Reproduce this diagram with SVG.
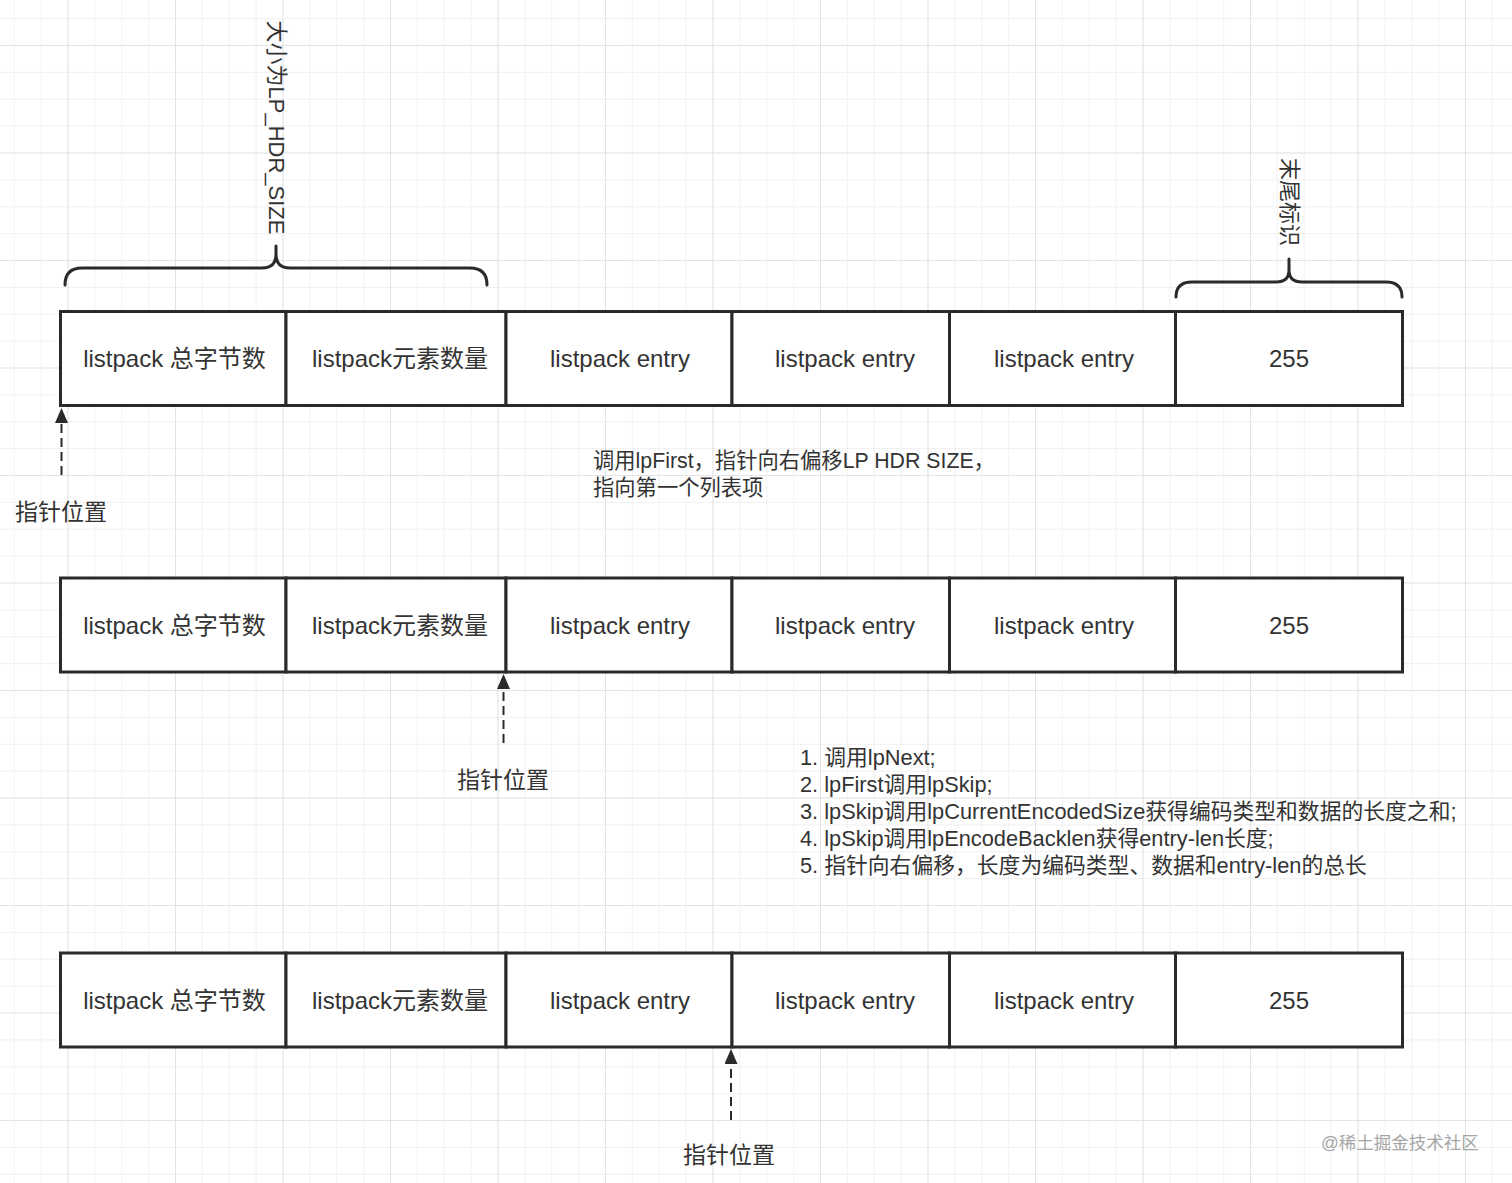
<svg xmlns="http://www.w3.org/2000/svg" width="1512" height="1183" viewBox="0 0 1512 1183">
  <defs>
    <pattern id="gridMinor" patternUnits="userSpaceOnUse" x="13.75" y="18.125" width="26.875" height="26.875">
      <path d="M0,0 H26.875 M0,0 V26.875" fill="none" stroke="#ebebeb" stroke-width="1.3"/>
    </pattern>
    <pattern id="gridMajor" patternUnits="userSpaceOnUse" x="67.5" y="45" width="107.5" height="107.5">
      <path d="M0,0 H107.5 M0,0 V107.5" fill="none" stroke="#e1e1e1" stroke-width="1.7"/>
    </pattern>
    <marker id="arrowHead" markerUnits="userSpaceOnUse" markerWidth="16" markerHeight="13" refX="0" refY="6.5" orient="auto" viewBox="0 0 16 13">
      <path d="M0,0 L15,6.5 L0,13 Z" fill="#2a2a2a"/>
    </marker>
    <style>
      .cell { fill: #ffffff; stroke: #2a2a2a; stroke-width: 3; }
      .lbl { font-family: "Liberation Sans", "Noto Sans CJK SC", sans-serif; fill: #333333; }
      .cellText { font-size: 24px; text-anchor: middle; dominant-baseline: central; }
      .ptr { font-size: 23px; text-anchor: middle; dominant-baseline: central; }
      .note1 { font-size: 21.3px; dominant-baseline: central; }
      .note2 { font-size: 21.8px; dominant-baseline: central; }
      .vert { font-size: 22px; text-anchor: middle; dominant-baseline: central; }
      .brace { fill: none; stroke: #2a2a2a; stroke-width: 3; stroke-linecap: round; stroke-linejoin: round; }
      .conn { fill: none; stroke: #2a2a2a; stroke-width: 2; stroke-dasharray: 9 5; }
      .wm { font-family: "Liberation Sans", "Noto Sans CJK SC", sans-serif; font-size: 17.5px; fill: #a6a6a6; dominant-baseline: central; }
    </style>
  </defs>

  <rect x="0" y="0" width="1512" height="1183" fill="#ffffff"/>
  <rect x="0" y="0" width="1512" height="1183" fill="url(#gridMinor)"/>
  <rect x="0" y="0" width="1512" height="1183" fill="url(#gridMajor)"/>

  <!-- Braces and their labels -->
  <g id="brace-header">
    <path class="brace" d="M65,285 Q65,268 82,268 L262,268 Q276,268 276,254 L276,246 M276,254 Q276,268 290,268 L470,268 Q487,268 487,285"/>
    <text class="lbl vert" transform="translate(276,127.5) rotate(90)">大小为LP_HDR_SIZE</text>
  </g>
  <g id="brace-end">
    <path class="brace" d="M1176,297 Q1176,282 1192,282 L1276,282 Q1289,282 1289,270 L1289,259 M1289,270 Q1289,282 1302,282 L1386,282 Q1402,282 1402,297"/>
    <text class="lbl vert" transform="translate(1289,202) rotate(90)">末尾标识</text>
  </g>

  <!-- Row 1 -->
  <g id="row1">
    <g id="r1-total"><rect class="cell" x="60.5" y="311.5" width="225.5" height="94"/><text class="lbl cellText" x="174.5" y="358.5">listpack 总字节数</text></g>
    <g id="r1-count"><rect class="cell" x="286" y="311.5" width="220" height="94"/><text class="lbl cellText" x="400" y="358.5">listpack元素数量</text></g>
    <g id="r1-entry1"><rect class="cell" x="506" y="311.5" width="226" height="94"/><text class="lbl cellText" x="620" y="358.5">listpack entry</text></g>
    <g id="r1-entry2"><rect class="cell" x="732" y="311.5" width="217.5" height="94"/><text class="lbl cellText" x="845" y="358.5">listpack entry</text></g>
    <g id="r1-entry3"><rect class="cell" x="949.5" y="311.5" width="226" height="94"/><text class="lbl cellText" x="1064" y="358.5">listpack entry</text></g>
    <g id="r1-end"><rect class="cell" x="1175.5" y="311.5" width="227" height="94"/><text class="lbl cellText" x="1289" y="358.5">255</text></g>
  </g>

  <!-- Row 2 -->
  <g id="row2">
    <g id="r2-total"><rect class="cell" x="60.5" y="578" width="225.5" height="94"/><text class="lbl cellText" x="174.5" y="625.5">listpack 总字节数</text></g>
    <g id="r2-count"><rect class="cell" x="286" y="578" width="220" height="94"/><text class="lbl cellText" x="400" y="625.5">listpack元素数量</text></g>
    <g id="r2-entry1"><rect class="cell" x="506" y="578" width="226" height="94"/><text class="lbl cellText" x="620" y="625.5">listpack entry</text></g>
    <g id="r2-entry2"><rect class="cell" x="732" y="578" width="217.5" height="94"/><text class="lbl cellText" x="845" y="625.5">listpack entry</text></g>
    <g id="r2-entry3"><rect class="cell" x="949.5" y="578" width="226" height="94"/><text class="lbl cellText" x="1064" y="625.5">listpack entry</text></g>
    <g id="r2-end"><rect class="cell" x="1175.5" y="578" width="227" height="94"/><text class="lbl cellText" x="1289" y="625.5">255</text></g>
  </g>

  <!-- Row 3 -->
  <g id="row3">
    <g id="r3-total"><rect class="cell" x="60.5" y="953" width="225.5" height="94"/><text class="lbl cellText" x="174.5" y="1000.5">listpack 总字节数</text></g>
    <g id="r3-count"><rect class="cell" x="286" y="953" width="220" height="94"/><text class="lbl cellText" x="400" y="1000.5">listpack元素数量</text></g>
    <g id="r3-entry1"><rect class="cell" x="506" y="953" width="226" height="94"/><text class="lbl cellText" x="620" y="1000.5">listpack entry</text></g>
    <g id="r3-entry2"><rect class="cell" x="732" y="953" width="217.5" height="94"/><text class="lbl cellText" x="845" y="1000.5">listpack entry</text></g>
    <g id="r3-entry3"><rect class="cell" x="949.5" y="953" width="226" height="94"/><text class="lbl cellText" x="1064" y="1000.5">listpack entry</text></g>
    <g id="r3-end"><rect class="cell" x="1175.5" y="953" width="227" height="94"/><text class="lbl cellText" x="1289" y="1000.5">255</text></g>
  </g>

  <!-- Connectors -->
  <g id="connectors">
    <line class="conn" x1="61.5" y1="475" x2="61.5" y2="423" marker-end="url(#arrowHead)"/>
    <line class="conn" x1="503.5" y1="743" x2="503.5" y2="689" marker-end="url(#arrowHead)"/>
    <line class="conn" x1="731" y1="1120" x2="731" y2="1064" marker-end="url(#arrowHead)"/>
  </g>

  <!-- Pointer labels -->
  <g id="ptr1"><text class="lbl ptr" x="61" y="512">指针位置</text></g>
  <g id="ptr2"><text class="lbl ptr" x="503" y="780">指针位置</text></g>
  <g id="ptr3"><text class="lbl ptr" x="729" y="1155">指针位置</text></g>

  <!-- Notes -->
  <g id="note1">
    <text class="lbl note1" x="593" y="461">调用lpFirst，指针向右偏移LP HDR SIZE，</text>
    <text class="lbl note1" x="593" y="488">指向第一个列表项</text>
  </g>
  <g id="note2">
    <text class="lbl note2" x="800" y="757">1. 调用lpNext;</text>
    <text class="lbl note2" x="800" y="784">2. lpFirst调用lpSkip;</text>
    <text class="lbl note2" x="800" y="811">3. lpSkip调用lpCurrentEncodedSize获得编码类型和数据的长度之和;</text>
    <text class="lbl note2" x="800" y="838">4. lpSkip调用lpEncodeBacklen获得entry-len长度;</text>
    <text class="lbl note2" x="800" y="865">5. 指针向右偏移，长度为编码类型、数据和entry-len的总长</text>
  </g>

  <text class="wm" x="1321" y="1143">@稀土掘金技术社区</text>
</svg>
